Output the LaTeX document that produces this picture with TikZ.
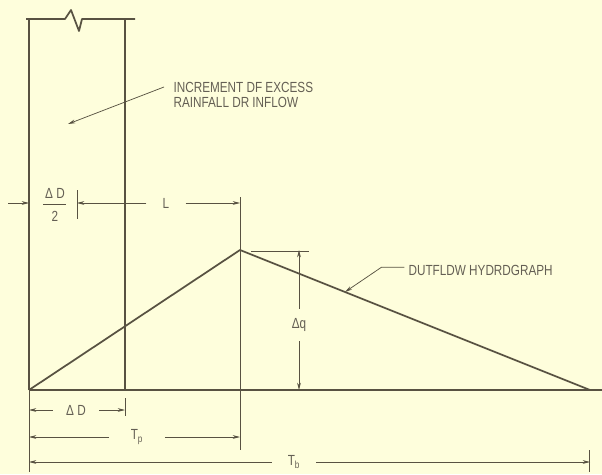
\documentclass[tikz,border=0pt]{standalone}
\usepackage{fontspec}
\newfontfamily\plotfont{Liberation Sans}[FakeStretch=0.8]
\usetikzlibrary{arrows.meta, positioning, calc}
\definecolor{paper}{RGB}{254,254,220}
\definecolor{ink}{RGB}{88,82,66}
\definecolor{inktext}{RGB}{100,95,84}

\begin{document}
\begin{tikzpicture}[x=0.75pt, y=-0.75pt,
    >={Stealth[length=5.5pt, width=2.8pt]},
    heavy/.style={draw=ink, line width=1.3pt, line join=round},
    thin/.style={draw=ink, line width=0.55pt},
    dimarrow/.style={thin, ->},
    lbl/.style={font=\plotfont\fontsize{11}{13}\selectfont, text=inktext, inner sep=1pt},
    dimlbl/.style={lbl, inner xsep=#1},
    dimlbl/.default=9pt
]
    % paper
    \fill[paper] (0,0) rectangle (602,474);
    \useasboundingbox (0,0) rectangle (602,474);

    % key points
    \coordinate (o) at (29,390);
    \coordinate (rr) at (125,390);
    \coordinate (pk) at (240,250);
    \coordinate (end) at (590,390);
    \coordinate (rt) at (602,390);

    % rainfall block with break at top
    \draw[heavy] (o) -- (o |- 0,19);
    \draw[heavy] (rr) -- (rr |- 0,19);
    \draw[heavy] (26,19) -- (65,19) -- (71,10) -- (79,31) -- (82,19) -- (135,19);

    % baseline and outflow hydrograph
    \draw[heavy] (o) -- (rt);
    \draw[heavy] (o) -- (pk) -- (end);

    % extension lines
    \draw[thin] (o) -- (29,472);
    \draw[thin] (240,197) -- (240,450);
    \draw[thin] (125,398) -- (125,416);
    \draw[thin] (589,450) -- (589,472);
    \draw[thin] (251,251) -- (309,251);
    \coordinate (cen) at (77,203);
    \draw[thin] (77,190) -- (77,219);

    % lag dimension
    \node[lbl] (halfnum) at (55,193) {Δ D};
    \node[lbl] (halfden) at (55,216) {2};
    \draw[thin] (43,204) -- (66,204);
    \coordinate (lagin) at (8,203);
    \draw[dimarrow] (lagin) -- (lagin -| o);
    \node[dimlbl=12pt] (lag) at (166,203) {L};
    \draw[dimarrow] (lag.west) -- (cen);
    \draw[dimarrow] (lag.east) -- (lag -| pk);

    % peak rise
    \node[lbl, inner ysep=7pt] (dq) at (299,325) {Δq};
    \draw[dimarrow] (dq.north) -- (dq |- pk);
    \draw[dimarrow] (dq.south) -- (dq |- o);

    % time dimensions
    \node[dimlbl=10pt] (dD) at (76,410) {Δ D};
    \draw[dimarrow] (dD.west) -- (dD -| o);
    \draw[dimarrow] (dD.east) -- (dD -| rr);

    \node[dimlbl=16pt] (Tp) at (137,437) {T\textsubscript{p}};
    \draw[dimarrow] (Tp.west) -- (Tp -| o);
    \draw[dimarrow] (Tp.east) -- (Tp -| pk);

    \node[dimlbl=12pt] (Tb) at (294,462) {T\textsubscript{b}};
    \draw[dimarrow] (Tb.west) -- (Tb -| o);
    \draw[dimarrow] (Tb.east) -- (Tb -| end);

    % labels
    \node[lbl, anchor=west] (rain1) at (172,87) {INCREMENT DF EXCESS};
    \node[lbl, anchor=west] (rain2) at (172,102) {RAINFALL DR INFLOW};
    \coordinate (rainhit) at (68,124);
    \draw[dimarrow] ([xshift=-6pt]rain1.west) -- (rainhit);

    \node[lbl, anchor=west] (flow) at (407,270) {DUTFLDW HYDRDGRAPH};
    \coordinate (flowhit) at (345,292);
    \draw[dimarrow] ([xshift=-2pt, yshift=2pt]flow.west) -- ++(-23,0) -- (flowhit);
\end{tikzpicture}
\end{document}
